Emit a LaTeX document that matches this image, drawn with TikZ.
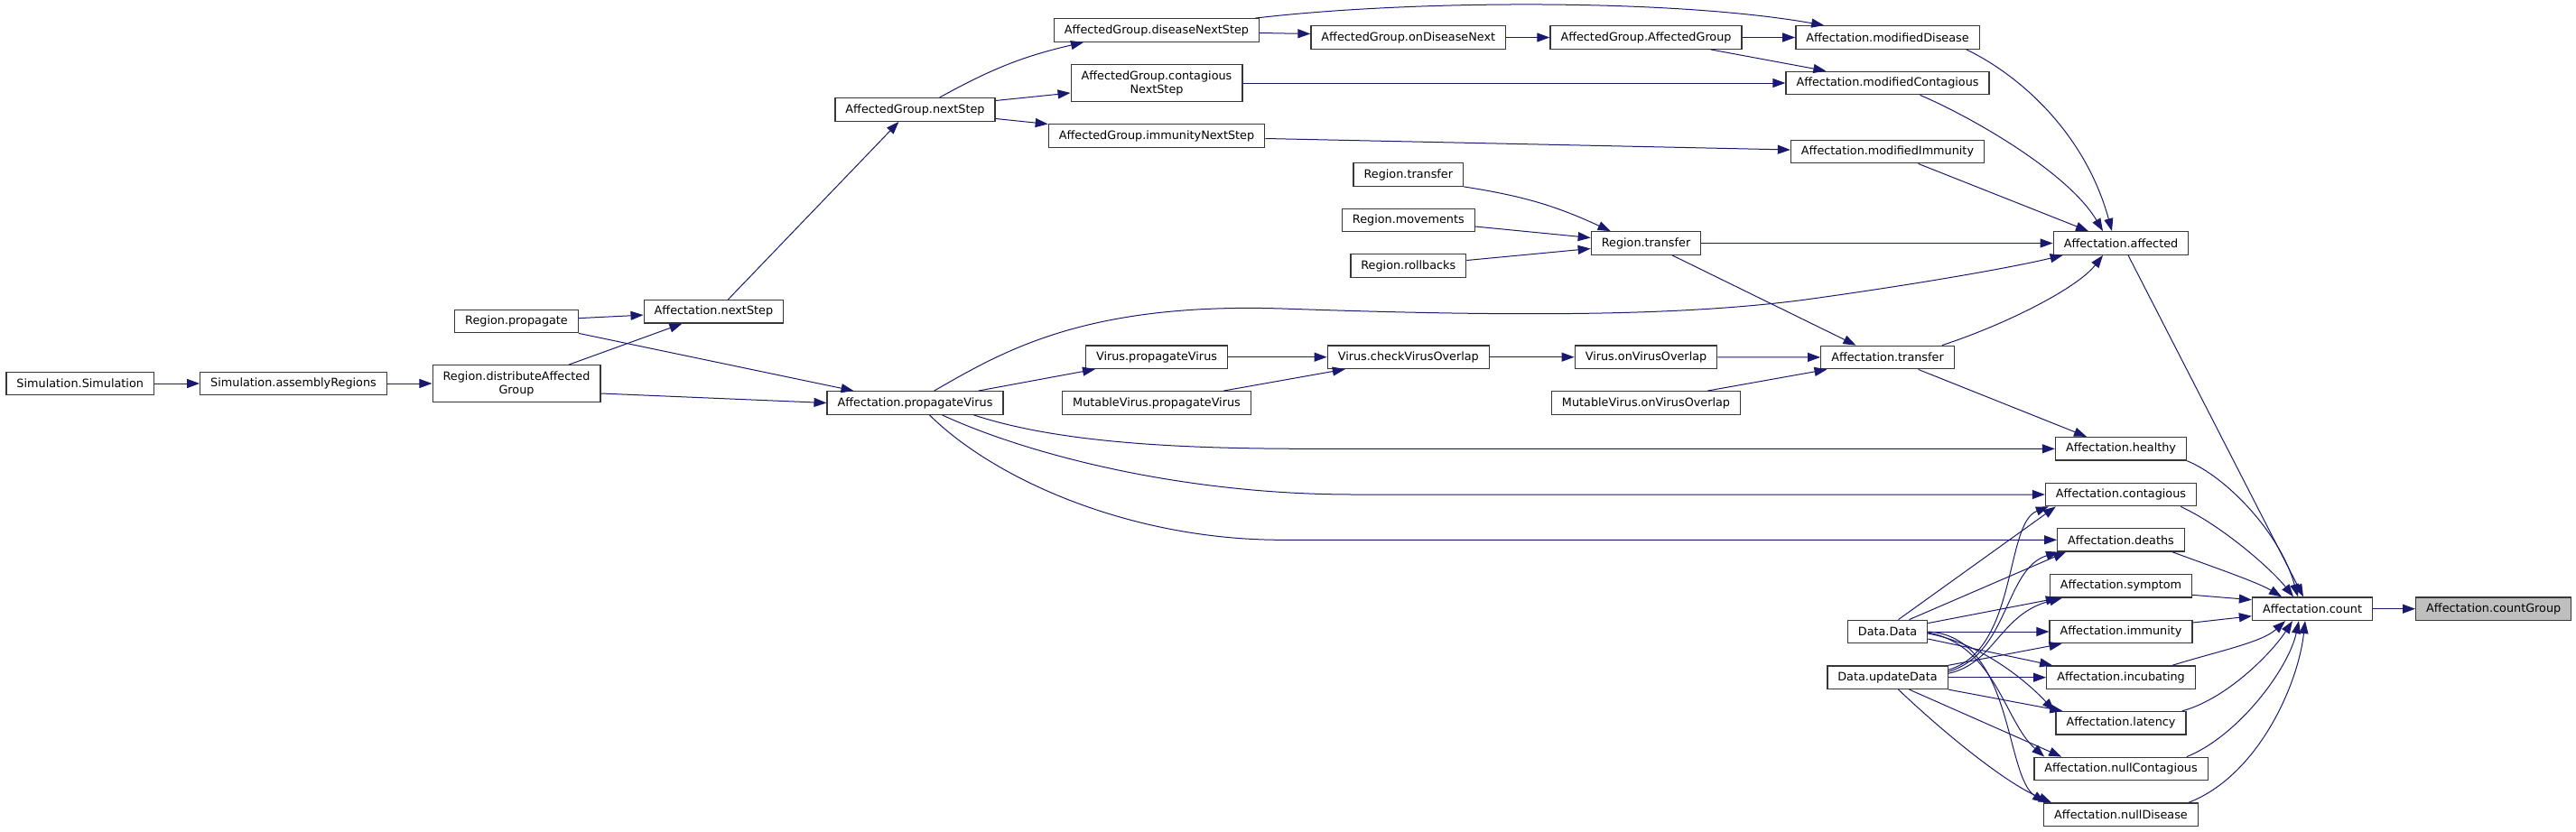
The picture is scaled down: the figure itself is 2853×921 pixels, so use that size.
\documentclass[tikz,border=0pt]{standalone}
\usepackage{fontspec}
\setmainfont{DejaVu Sans}
\usetikzlibrary{arrows.meta}
\definecolor{callColor}{RGB}{25,25,112}
\definecolor{boxBorder}{RGB}{55,55,55}
\definecolor{focusFill}{RGB}{191,191,191}
\def\colSim{88.7}
\def\colAsm{325}
\def\colDist{572}
\def\colNext{790.4}
\def\colProp{1013.5}
\def\colGrp{1281}
\def\colMid{1559.8}
\def\colTr{1823}
\def\colMod{2090.5}
\def\colAff{2349}
\def\colCnt{2561}
\def\colCG{2761.7}
\def\rowTop{41.5}
\def\rowSim{425}
\def\rowVirus{395.7}
\def\rowMutable{446.5}
\def\rowCount{674.7}

\begin{document}
\begin{tikzpicture}[
    x=1pt, y=-1pt,
    >={Triangle[length=14pt, width=10pt]},
    callArrow/.style={->, draw=callColor, line width=1pt},
    funcBox/.style  ={rectangle, draw=boxBorder, fill=white, line width=1.3pt,
                      inner xsep=11.5pt, inner ysep=3pt, minimum height=25.5pt,
                      align=center, font=\fontsize{12.8}{15}\selectfont},
    focusBox/.style ={funcBox, fill=focusFill},
]
\useasboundingbox (0,0) rectangle (2853,921);

% =====================================================
% LEFT PART: simulation and region setup
% =====================================================
\node[funcBox] (simSim)  at (\colSim,\rowSim)  {Simulation.Simulation};
\node[funcBox] (simAsm)  at (\colAsm,\rowSim)  {Simulation.assemblyRegions};
\node[funcBox, minimum height=40.5pt] (distGrp) at (\colDist,\rowSim) {Region.distributeAffected\\Group};
\node[funcBox] (regProp) at (\colDist,356)     {Region.propagate};
\node[funcBox] (affNext) at (\colNext,345.3)   {Affectation.nextStep};
\node[funcBox] (affPropV) at (\colProp,\rowMutable) {Affectation.propagateVirus};
\node[funcBox] (grpNext) at (\colProp,121.5)   {AffectedGroup.nextStep};

% =====================================================
% MIDDLE PART: affected groups, regions, viruses
% =====================================================
\node[funcBox] (grpDis)  at (\colGrp,33.5)     {AffectedGroup.diseaseNextStep};
\node[funcBox, minimum height=40.5pt] (grpCont) at (\colGrp,92) {AffectedGroup.contagious\\NextStep};
\node[funcBox] (grpImm)  at (\colGrp,150.5)    {AffectedGroup.immunityNextStep};
\node[funcBox] (virProp) at (\colGrp,\rowVirus)   {Virus.propagateVirus};
\node[funcBox] (mutProp) at (\colGrp,\rowMutable) {MutableVirus.propagateVirus};

\node[funcBox] (grpOnDis) at (\colMid,\rowTop)  {AffectedGroup.onDiseaseNext};
\node[funcBox] (regTrA)   at (\colMid,193.5)    {Region.transfer};
\node[funcBox] (regMov)   at (\colMid,244)      {Region.movements};
\node[funcBox] (regRoll)  at (\colMid,294.5)    {Region.rollbacks};
\node[funcBox] (virCheck) at (\colMid,\rowVirus) {Virus.checkVirusOverlap};

\node[funcBox] (grpCtor) at (\colTr,\rowTop)    {AffectedGroup.AffectedGroup};
\node[funcBox] (regTrB)  at (\colTr,269.5)      {Region.transfer};
\node[funcBox] (virOn)   at (\colTr,\rowVirus)   {Virus.onVirusOverlap};
\node[funcBox] (mutOn)   at (\colTr,\rowMutable) {MutableVirus.onVirusOverlap};

% =====================================================
% RIGHT PART: affectation getters and count
% =====================================================
\node[funcBox] (modDis)   at (\colMod,\rowTop)  {Affectation.modifiedDisease};
\node[funcBox] (modCont)  at (\colMod,92)       {Affectation.modifiedContagious};
\node[funcBox] (modImm)   at (\colMod,168)      {Affectation.modifiedImmunity};
\node[funcBox] (affTr)    at (\colMod,396)      {Affectation.transfer};
\node[funcBox] (dataData) at (\colMod,700)      {Data.Data};
\node[funcBox] (dataUpd)  at (\colMod,750.7)    {Data.updateData};

\node[funcBox] (affAff)  at (\colAff,269.5)     {Affectation.affected};
\node[funcBox] (healthy) at (\colAff,497.3)     {Affectation.healthy};
\node[funcBox] (contag)  at (\colAff,548)       {Affectation.contagious};
\node[funcBox] (deaths)  at (\colAff,598.3)     {Affectation.deaths};
\node[funcBox] (symptom) at (\colAff,649.3)     {Affectation.symptom};
\node[funcBox] (immun)   at (\colAff,700)       {Affectation.immunity};
\node[funcBox] (incub)   at (\colAff,750.7)     {Affectation.incubating};
\node[funcBox] (latency) at (\colAff,801.3)     {Affectation.latency};
\node[funcBox] (nullC)   at (\colAff,852)       {Affectation.nullContagious};
\node[funcBox] (nullD)   at (\colAff,902.7)     {Affectation.nullDisease};

\node[funcBox]  (count)    at (\colCnt,\rowCount) {Affectation.count};
\node[focusBox] (countGrp) at (\colCG,\rowCount)  {Affectation.countGroup};

% =====================================================
% Calls: left part
% =====================================================
\draw[callArrow] (simSim) -- (simAsm);
\draw[callArrow] (simAsm) -- (distGrp);
\draw[callArrow] ([xshift=58pt]distGrp.north) -- ([xshift=-35pt]affNext.south);
\draw[callArrow] ([yshift=-11pt]distGrp.east) -- (affPropV.west);
\draw[callArrow] (regProp) -- (affNext);
\draw[callArrow] (regProp.south east) -- ([xshift=-68pt]affPropV.north);
\draw[callArrow] ([xshift=16pt]affNext.north) -- ([xshift=-18pt]grpNext.south);

% =====================================================
% Calls: affected groups
% =====================================================
\draw[callArrow] ([xshift=27pt]grpNext.north) to[bend left=8] ([xshift=-81pt]grpDis.south);
\draw[callArrow] ([yshift=10pt]grpNext.east) -- ([yshift=-11pt]grpCont.west);
\draw[callArrow] ([yshift=-10pt]grpNext.east) -- ([yshift=13pt]grpImm.west);
\draw[callArrow] ([yshift=-3pt]grpDis.east) -- ([yshift=4pt]grpOnDis.west);
\draw[callArrow] ([xshift=-5pt]grpDis.north east) .. controls (1560,0) and (1850,-2) .. ([xshift=32pt]modDis.north west);
\draw[callArrow] (grpOnDis) -- (grpCtor);
\draw[callArrow] (grpCtor) -- (modDis);
\draw[callArrow] ([xshift=-35pt]grpCtor.south east) -- ([xshift=45pt]modCont.north west);
\draw[callArrow] (grpCont) -- (modCont);
\draw[callArrow] ([yshift=-3pt]grpImm.east) -- ([yshift=2pt]modImm.west);

% =====================================================
% Calls into Affectation.affected
% =====================================================
\draw[callArrow] ([xshift=-15pt]modDis.south east) .. controls (2240,85) and (2310,150) .. ([xshift=-10pt]affAff.north);
\draw[callArrow] ([xshift=36pt]modCont.south) .. controls (2180,128) and (2290,190) .. ([xshift=-20pt]affAff.north);
\draw[callArrow] ([xshift=34pt]modImm.south) -- ([xshift=-36pt]affAff.north);
\draw[callArrow] (regTrB) -- (affAff);
\draw[callArrow] ([xshift=21pt]affPropV.north) .. controls (1110,390) and (1200,335) .. (1420,342)
                 .. controls (1650,350) and (1850,352) .. (2000,332)
                 .. controls (2130,314) and (2230,296) .. ([xshift=11pt]affAff.south west);
\draw[callArrow] ([xshift=-14pt]affTr.north east) .. controls (2220,360) and (2300,320) .. ([xshift=-20pt]affAff.south);

% Region.transfer
\draw[callArrow] (regTrA.south east) to[bend left=8] ([xshift=22pt]regTrB.north west);
\draw[callArrow] ([yshift=-7pt]regMov.east) -- ([yshift=6pt]regTrB.west);
\draw[callArrow] ([yshift=6pt]regRoll.east) -- ([yshift=-6pt]regTrB.west);
\draw[callArrow] ([xshift=29pt]regTrB.south) -- ([xshift=-35pt]affTr.north);

% Virus overlap chain
\draw[callArrow] ([xshift=70pt]affPropV.north) -- ([xshift=-68pt]virProp.south);
\draw[callArrow] (virProp) -- (virCheck);
\draw[callArrow] ([xshift=74pt]mutProp.north) -- ([xshift=-70pt]virCheck.south);
\draw[callArrow] (virCheck) -- (virOn);
\draw[callArrow] (virOn) -- (affTr);
\draw[callArrow] ([xshift=68pt]mutOn.north) -- ([xshift=-67pt]affTr.south);

% propagateVirus -> getters
\draw[callArrow] ([xshift=65pt]affPropV.south) .. controls (1170,490) and (1300,497.3) .. (1450,497.3) -- (healthy.west);
\draw[callArrow] ([xshift=30pt]affPropV.south) .. controls (1130,500) and (1300,548) .. (1500,548) -- (contag.west);
\draw[callArrow] ([xshift=16pt]affPropV.south) .. controls (1100,530) and (1250,598.3) .. (1420,598.3) -- (deaths.west);
\draw[callArrow] ([xshift=34pt]affTr.south) -- ([xshift=-38pt]healthy.north);

% =====================================================
% Calls into Affectation.count
% =====================================================
\draw[callArrow] ([xshift=8pt]affAff.south) -- ([xshift=-10pt]count.north);
\draw[callArrow] (healthy.south east) .. controls (2465,528) and (2525,590) .. ([xshift=-16pt]count.north);
\draw[callArrow] ([xshift=-18pt]contag.south east) .. controls (2460,582) and (2515,630) .. ([xshift=-21pt]count.north);
\draw[callArrow] ([xshift=-14pt]deaths.south east) .. controls (2450,628) and (2500,645) .. ([xshift=-34pt]count.north);
\draw[callArrow] ([yshift=-10pt]symptom.east) -- ([yshift=10pt]count.west);
\draw[callArrow] ([yshift=10pt]immun.east) -- ([yshift=-8pt]count.west);
\draw[callArrow] ([xshift=-26pt]incub.north east) .. controls (2455,722) and (2505,712) .. ([xshift=-30pt]count.south);
\draw[callArrow] ([xshift=-5pt]latency.north east) .. controls (2465,775) and (2515,725) .. ([xshift=-22pt]count.south);
\draw[callArrow] ([xshift=-24pt]nullC.north east) .. controls (2480,815) and (2535,740) .. ([xshift=-15pt]count.south);
\draw[callArrow] ([xshift=-11pt]nullD.north east) .. controls (2500,860) and (2545,760) .. ([xshift=-8pt]count.south);
\draw[callArrow] (count) -- (countGrp);

% =====================================================
% Data.Data and Data.updateData
% =====================================================
\draw[callArrow] ([xshift=12pt]dataData.north) -- ([xshift=12pt]contag.south west);
\draw[callArrow] ([xshift=24pt]dataData.north) -- ([xshift=10pt]deaths.south west);
\draw[callArrow] ([yshift=-4pt]dataData.north east) -- ([xshift=10pt]symptom.south west);
\draw[callArrow] (dataData) -- (immun);
\draw[callArrow] ([yshift=-8pt]dataData.east) -- ([xshift=7pt]incub.north west);
\draw[callArrow] ([yshift=-2pt]dataData.east) .. controls (2190,712) and (2240,750) .. ([xshift=-1pt]latency.north west);
\draw[callArrow] ([yshift=-1pt]dataData.east) .. controls (2210,715) and (2220,800) .. ([xshift=12pt]nullC.north west);
\draw[callArrow] (dataData.east) .. controls (2230,705) and (2220,860) .. ([xshift=2pt]nullD.north west);

\draw[callArrow] ([yshift=-5pt]dataUpd.north east) .. controls (2235,720) and (2220,580) .. ([xshift=4pt]contag.south west);
\draw[callArrow] ([yshift=-7pt]dataUpd.north east) .. controls (2225,725) and (2220,630) .. ([xshift=2pt]deaths.south west);
\draw[callArrow] ([yshift=-9pt]dataUpd.north east) .. controls (2210,735) and (2215,680) .. ([xshift=14pt]symptom.south west);
\draw[callArrow] (dataUpd.north east) -- ([xshift=14pt]immun.south west);
\draw[callArrow] (dataUpd) -- (incub);
\draw[callArrow] (dataUpd.south east) -- ([xshift=8pt]latency.north west);
\draw[callArrow] ([xshift=24pt]dataUpd.south) -- ([xshift=31pt]nullC.north west);
\draw[callArrow] ([xshift=12pt]dataUpd.south) .. controls (2140,800) and (2215,865) .. ([xshift=9pt]nullD.north west);

\end{tikzpicture}
\end{document}
